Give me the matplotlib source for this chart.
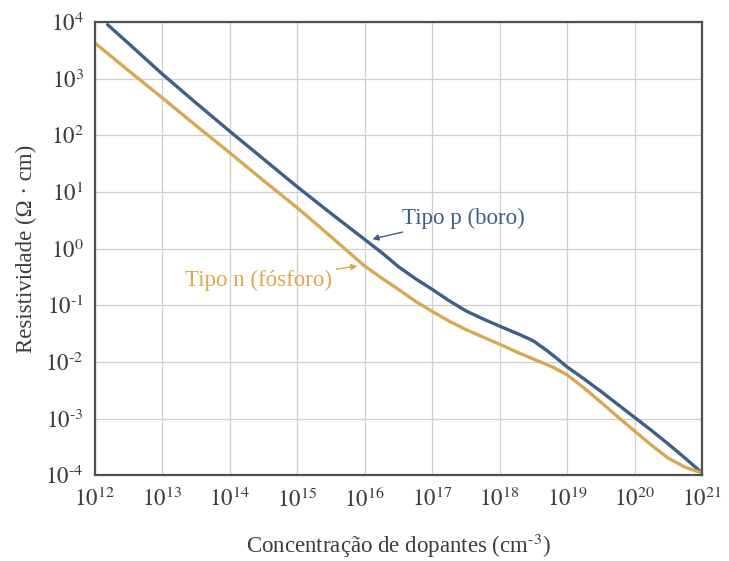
import numpy as np
import matplotlib
matplotlib.use('Agg')
import matplotlib.pyplot as plt

plt.rcParams['font.family'] = ['Liberation Serif', 'DejaVu Serif']
plt.rcParams['mathtext.fontset'] = 'stix'

# log10 of dopant concentration (cm^-3) and resistivity (ohm.cm)
log_n_boro = [12.19, 12.5, 13, 13.5, 14, 14.5, 15, 15.5, 16, 16.25, 16.5, 16.75, 17, 17.25,
              17.5, 17.75, 18, 18.3, 18.5, 18.7, 18.85, 19, 19.25, 19.5, 19.75, 20, 20.25,
              20.5, 20.75, 21]
log_rho_boro = [3.95, 3.62, 3.08, 2.57, 2.07, 1.58, 1.09, 0.62, 0.16, -0.07, -0.32, -0.53,
                -0.72, -0.92, -1.10, -1.24, -1.37, -1.52, -1.63, -1.80, -1.94, -2.09, -2.30,
                -2.52, -2.75, -2.98, -3.21, -3.45, -3.70, -3.96]

log_n_fosforo = [12, 12.5, 13, 13.5, 14, 14.5, 15, 15.5, 16, 16.25, 16.5, 16.75, 17, 17.25,
                 17.5, 17.75, 18, 18.3, 18.6, 18.8, 19, 19.25, 19.5, 19.75, 20, 20.25, 20.5,
                 20.75, 21]
log_rho_fosforo = [3.63, 3.14, 2.66, 2.17, 1.69, 1.20, 0.72, 0.21, -0.31, -0.52, -0.72, -0.93,
                   -1.11, -1.28, -1.43, -1.56, -1.69, -1.85, -2.00, -2.10, -2.23, -2.46, -2.71,
                   -2.97, -3.22, -3.47, -3.70, -3.86, -3.96]

x_exps = [12, 13, 14, 15, 16, 17, 18, 19, 20, 21]
y_exps = [-4, -3, -2, -1, 0, 1, 2, 3, 4]

blue = '#3f5f88'
orange = '#d8a950'
text_col = '#3c3c3c'


def exp_label(e):
    s = str(e).replace('-', r'\text{-}')
    return r'$10^{%s}$' % s


fig = plt.figure(figsize=(7.29, 5.61), dpi=100)
ax = fig.add_axes([0.130, 0.153, 0.833, 0.808])

ax.plot(10 ** np.array(log_n_boro), 10 ** np.array(log_rho_boro), color=blue, lw=2.4,
        solid_capstyle='round', solid_joinstyle='round')
ax.plot(10 ** np.array(log_n_fosforo), 10 ** np.array(log_rho_fosforo), color=orange, lw=2.4,
        solid_capstyle='round', solid_joinstyle='round')

ax.set_xscale('log')
ax.set_yscale('log')
ax.set_xlim(1e12, 1e21)
ax.set_ylim(1e-4, 1e4)
ax.set_xticks([10.0 ** e for e in x_exps])
ax.set_yticks([10.0 ** e for e in y_exps])
ax.set_xticklabels([exp_label(e) for e in x_exps])
ax.set_yticklabels([exp_label(e) for e in y_exps])
ax.minorticks_off()
ax.tick_params(length=0, labelsize=16.5, labelcolor=text_col)
ax.tick_params(axis='x', pad=9)
ax.tick_params(axis='y', pad=8)

ax.grid(True, color='#cfcfcf', lw=0.9)
for s in ax.spines.values():
    s.set_color('#505050')
    s.set_linewidth(1.6)

ax.set_xlabel('Concentração de dopantes (cm$^{\\text{-}3}$)', fontsize=16.5, color=text_col,
              labelpad=14)
ax.set_ylabel('Resistividade (Ω · cm)', fontsize=16.5, color=text_col, labelpad=6)

ax.annotate('Tipo p (boro)', xy=(1.3e16, 1.47), xytext=(3.6e16, 3.45),
            fontsize=16.5, color=blue, va='center', ha='left',
            arrowprops=dict(arrowstyle='-|>', color=blue, lw=1.0, mutation_scale=9,
                            shrinkA=2, shrinkB=0))
ax.annotate('Tipo n (fósforo)', xy=(7.8e15, 0.49), xytext=(3.3e15, 0.275),
            fontsize=16.5, color=orange, va='center', ha='right',
            arrowprops=dict(arrowstyle='-|>', color=orange, lw=1.0, mutation_scale=9,
                            shrinkA=1, shrinkB=0))

fig.savefig('out.png', dpi=100, facecolor='white')
